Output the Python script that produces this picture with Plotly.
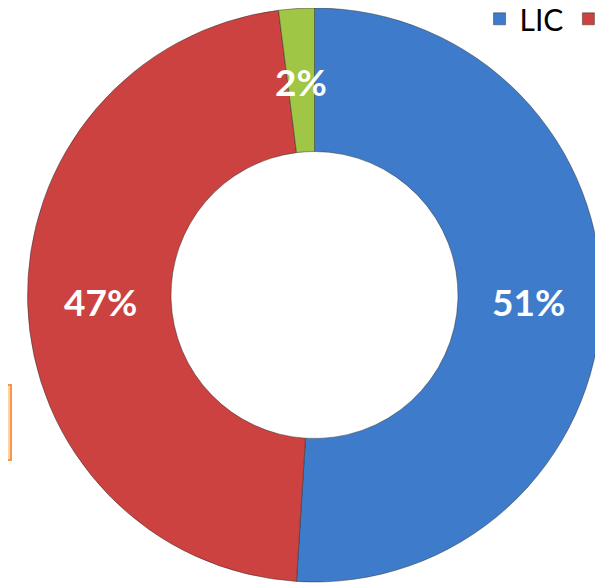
import math

import plotly.graph_objects as go

# share of each segment, clockwise from 12 o'clock
labels = ["LIC", "Private", "Others"]
values = [51, 47, 2]
text_labels = ["51%", "47%", "2%"]

SLICE_COLOURS = ["#3e7ccb", "#cb4241", "#9fc645"]

W, H = 603, 584
# pie geometry in figure pixels (the page adds its own 8px body margin)
CX, CY, R = 306.5, 287.0, 287.0
LABEL_R = 0.745 * R

fig = go.Figure()

fig.add_trace(
    go.Pie(
        labels = labels,
        values = values,
        textinfo = "none",
        hole = 0.5,
        sort = False,
        direction = "clockwise",
        rotation = 0,
        marker = dict(colors = SLICE_COLOURS, line = dict(color = "rgba(40,40,40,0.45)", width = 1)),
        domain = dict(x = [(CX - R) / W, (CX + R) / W], y = [1 - (CY + R) / H, 1.0]),
        hoverinfo = "label+percent",
    )
)

# percentage labels at the middle of the ring, angle taken from the data
annotations = []
total = sum(values)
cum = 0
for val, txt in zip(values, text_labels):
    mid = (cum + val / 2) / total * 2 * math.pi
    cum += val
    px = CX + LABEL_R * math.sin(mid)
    py = CY - LABEL_R * math.cos(mid)
    annotations.append(
        dict(
            x = px / W,
            y = 1 - py / H,
            xref = "paper",
            yref = "paper",
            text = txt,
            showarrow = False,
            xanchor = "center",
            yanchor = "middle",
            font = dict(family = "Lato", size = 37, color = "white", weight = "bold"),
        )
    )

fig.update_layout(
    width = W,
    height = H,
    margin = dict(l = 0, r = 0, t = 0, b = 0, autoexpand = False),
    paper_bgcolor = "white",
    plot_bgcolor = "white",
    showlegend = True,
    legend = dict(
        orientation = "h",
        x = 0.782,
        y = 1.026,
        xanchor = "left",
        yanchor = "top",
        font = dict(family = "Lato", size = 30, color = "black"),
        itemwidth = 30,
        bgcolor = "rgba(0,0,0,0)",
    ),
    annotations = annotations,
    shapes = [
        dict(
            type = "rect",
            xref = "paper",
            yref = "paper",
            x0 = -0.05,
            x1 = 3 / W,
            y0 = 1 - 452 / H,
            y1 = 1 - 377 / H,
            fillcolor = "#fdd3a8",
            line = dict(color = "#f79646", width = 2),
        )
    ],
)

fig.write_html("out.html")
